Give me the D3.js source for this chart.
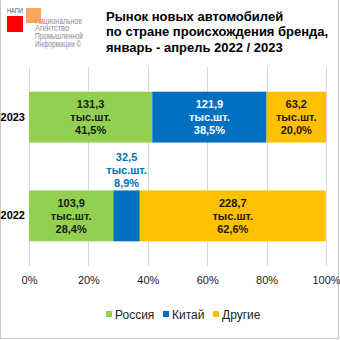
<!DOCTYPE html>
<html>
<head>
<meta charset="utf-8">
<script src="https://cdn.jsdelivr.net/npm/d3@7"></script>
<style>
  html, body { margin: 0; padding: 0; background: #fff; }
  svg { display: block; font-family: Arial, "Liberation Sans", sans-serif; }
</style>
</head>
<body>
<div id="chart"></div>
<script>
// Market of new cars by brand origin, January–April
const years = ["2023", "2022"];
const seriesNames = ["Россия", "Китай", "Другие"];
const seriesColors = ["#92D050", "#0070C0", "#FFC000"];
const volumes2023 = [131.3, 121.9, 63.2];
const shares2023 = [41.5, 38.5, 20.0];
const volumes2022 = [103.9, 32.5, 228.7];
const shares2022 = [28.4, 8.9, 62.6];
const tickValues = [0, 20, 40, 60, 80, 100];
const titleLines = ["Рынок новых автомобилей", "по стране происхождения бренда,", "январь - апрель 2022 / 2023"];
const logoLines = ["Национальное", "Агентство", "Промышленной", "Информации ©"];

const W = 340, H = 340;
const svg = d3.select("#chart").append("svg").attr("width", W).attr("height", H);

// frame
svg.append("rect").attr("x", 0.5).attr("y", -1).attr("width", W - 2).attr("height", H - 0.5)
  .attr("fill", "none").attr("stroke", "#c8c8c8").attr("stroke-width", 1);

// logo
const logo = svg.append("g");
logo.append("text").attr("x", 7).attr("y", 13).attr("font-size", 6.5).attr("fill", "#555")
  .attr("textLength", 16).attr("lengthAdjust", "spacingAndGlyphs").text("НАПИ");
logo.append("rect").attr("x", 7).attr("y", 16).attr("width", 16).attr("height", 16).attr("fill", "#FF0000");
logoLines.forEach((t, i) => {
  logo.append("text").attr("x", 35).attr("y", 23.5 + i * 7.8).attr("font-size", 8.2)
    .attr("fill", "#8c8c8c").attr("textLength", i === 3 ? 46 : [47, 34, 48, 40][i])
    .attr("lengthAdjust", "spacingAndGlyphs").text(t);
});
logo.append("rect").attr("x", 26).attr("y", 8).attr("width", 15).attr("height", 15)
  .attr("fill", "#F79646").attr("opacity", 0.85);

// title
svg.append("g").selectAll("text").data(titleLines).join("text")
  .attr("x", 106).attr("y", (d, i) => 20.5 + i * 15.7)
  .attr("font-size", 13).attr("font-weight", "bold").attr("fill", "#000")
  .text(d => d);

// scales
const x = d3.scaleLinear().domain([0, 100]).range([29, 326]);
const y = d3.scaleBand().domain(years).range([67, 266]).paddingInner(0.485).paddingOuter(0.25);

// gridlines
svg.append("g").selectAll("line").data(tickValues).join("line")
  .attr("x1", d => Math.round(x(d)) + 0.5).attr("x2", d => Math.round(x(d)) + 0.5)
  .attr("y1", 67).attr("y2", 266)
  .attr("stroke", "#d9d9d9").attr("stroke-width", 1);

// x axis labels
const xAxis = d3.axisBottom(x).tickValues(tickValues).tickSize(0).tickPadding(0).tickFormat(d => d + "%");
const gx = svg.append("g").attr("transform", "translate(0,276)").call(xAxis);
gx.select(".domain").remove();
gx.selectAll("text").attr("font-size", 11).attr("fill", "#222").attr("font-family", "Arial, 'Liberation Sans', sans-serif");

// y axis labels
const yAxis = d3.axisLeft(y).tickSize(0).tickPadding(0);
const gy = svg.append("g").attr("transform", "translate(25,0)").call(yAxis);
gy.select(".domain").remove();
gy.selectAll("text").attr("font-size", 11).attr("font-weight", "bold").attr("fill", "#000")
  .attr("font-family", "Arial, 'Liberation Sans', sans-serif");

// stacked data
const rows = [
  { year: "2023", vols: volumes2023, shares: shares2023 },
  { year: "2022", vols: volumes2022, shares: shares2022 }
];
const fmt = v => v.toFixed(1).replace(".", ",");

rows.forEach(row => {
  let acc = 0;
  const g = svg.append("g");
  row.shares.forEach((s, i) => {
    const x0 = x(acc), x1 = x(acc + s);
    acc += s;
    g.append("rect").attr("x", x0).attr("y", y(row.year))
      .attr("width", x1 - x0).attr("height", y.bandwidth()).attr("fill", seriesColors[i]);
    const lines = [fmt(row.vols[i]), "тыс.шт.", fmt(s) + "%"];
    const cx = (x0 + x1) / 2;
    const small = (x1 - x0) < 40;
    const cy = small ? y(row.year) - 20.5 : y(row.year) + y.bandwidth() / 2;
    const fill = small ? "#0070C0" : (i === 1 ? "#fff" : "#1a1a1a");
    g.append("g").selectAll("text").data(lines).join("text")
      .attr("x", cx).attr("y", (d, k) => cy + (k - 1) * 12.8 + 4)
      .attr("text-anchor", "middle").attr("font-size", 11).attr("font-weight", "bold")
      .attr("fill", fill).text(d => d);
  });
});

// legend
const legend = svg.append("g");
const legX = [106, 163, 213];
seriesNames.forEach((n, i) => {
  legend.append("rect").attr("x", legX[i]).attr("y", 311).attr("width", 6).attr("height", 6).attr("fill", seriesColors[i]);
  legend.append("text").attr("x", legX[i] + 9).attr("y", 318.5).attr("font-size", 12).attr("fill", "#222").text(n);
});
</script>
</body>
</html>
